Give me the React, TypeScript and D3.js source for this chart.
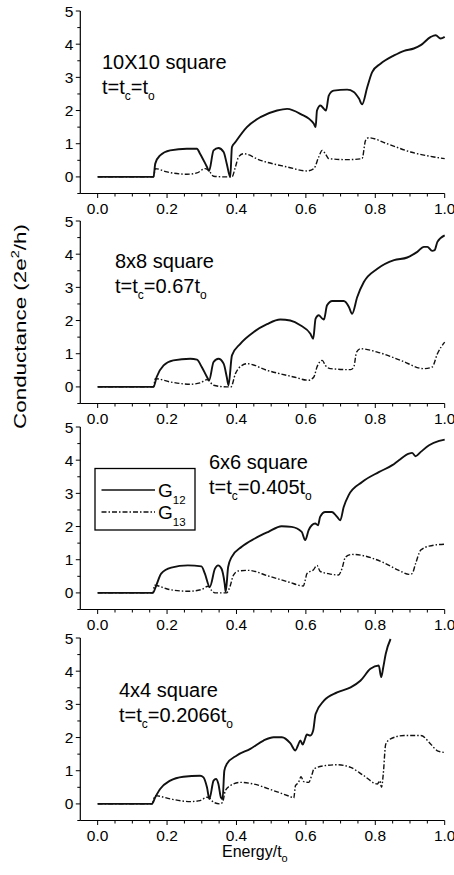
import React from 'react';
import * as d3 from 'd3';

// ---------- data ----------
const xTickValues = [0, 0.2, 0.4, 0.6, 0.8, 1.0];
const yTickValues = [0, 1, 2, 3, 4, 5];
const panelTitles = ['10X10 square', '8x8 square', '6x6 square', '4x4 square'];
const panelCouplings = ['', '0.67', '0.405', '0.2066'];

const g12_p1: [number, number][] = [
  [0, 0], [0.161, 0], [0.166, 0.4], [0.18, 0.65], [0.209, 0.8], [0.257, 0.85], [0.286, 0.85], [0.295, 0.7],
  [0.315, 0.3], [0.321, 0.18], [0.334, 0.8], [0.348, 0.87], [0.363, 0.75], [0.372, 0.4], [0.382, 0.0],
  [0.387, 0.9], [0.397, 1.05], [0.43, 1.5], [0.469, 1.8], [0.517, 2.0], [0.546, 2.05], [0.584, 1.9],
  [0.623, 1.6], [0.628, 1.5], [0.632, 2.0], [0.642, 2.15], [0.652, 2.05], [0.658, 2.0], [0.666, 2.45],
  [0.68, 2.6], [0.719, 2.63], [0.738, 2.56], [0.753, 2.36], [0.762, 2.19], [0.777, 2.71], [0.791, 3.16],
  [0.815, 3.41], [0.854, 3.66], [0.883, 3.8], [0.911, 3.87], [0.931, 3.97], [0.96, 4.22], [0.974, 4.27],
  [0.988, 4.17], [1.0, 4.22],
];
const g13_p1: [number, number][] = [
  [0, 0], [0.161, 0], [0.166, 0.25], [0.2, 0.15], [0.257, 0.08], [0.286, 0.12], [0.31, 0.25], [0.32, 0.2],
  [0.334, 0.02], [0.372, 0], [0.387, 0], [0.397, 0.3], [0.406, 0.6], [0.42, 0.7], [0.469, 0.5], [0.546, 0.3],
  [0.603, 0.18], [0.623, 0.25], [0.637, 0.6], [0.647, 0.8], [0.656, 0.7], [0.666, 0.55], [0.719, 0.52],
  [0.762, 0.55], [0.772, 1.1], [0.781, 1.18], [0.834, 1.0], [0.902, 0.75], [0.969, 0.6], [1.0, 0.55],
];

const g12_p2: [number, number][] = [
  [0, 0], [0.161, 0], [0.17, 0.3], [0.19, 0.65], [0.218, 0.8], [0.267, 0.85], [0.286, 0.82], [0.3, 0.6],
  [0.315, 0.3], [0.321, 0.2], [0.334, 0.75], [0.348, 0.85], [0.363, 0.7], [0.372, 0.3], [0.377, 0.05],
  [0.387, 0.95], [0.411, 1.3], [0.449, 1.65], [0.488, 1.89], [0.526, 2.03], [0.555, 2.0], [0.584, 1.86],
  [0.613, 1.6], [0.621, 1.45], [0.628, 2.06], [0.637, 2.16], [0.647, 2.06], [0.652, 2.03], [0.661, 2.46],
  [0.676, 2.59], [0.709, 2.59], [0.724, 2.41], [0.733, 2.2], [0.748, 2.71], [0.767, 3.16], [0.806, 3.56],
  [0.854, 3.82], [0.892, 3.9], [0.921, 4.07], [0.94, 4.22], [0.95, 4.22], [0.964, 4.1], [0.971, 4.12],
  [0.979, 4.37], [1.0, 4.57],
];
const g13_p2: [number, number][] = [
  [0, 0], [0.161, 0], [0.166, 0.25], [0.209, 0.15], [0.267, 0.08], [0.295, 0.12], [0.315, 0.22],
  [0.334, 0.05], [0.372, 0], [0.384, 0], [0.397, 0.4], [0.416, 0.65], [0.43, 0.7], [0.488, 0.5],
  [0.565, 0.3], [0.608, 0.2], [0.623, 0.3], [0.632, 0.6], [0.647, 0.8], [0.656, 0.65], [0.671, 0.55],
  [0.729, 0.52], [0.738, 0.6], [0.746, 1.05], [0.757, 1.15], [0.806, 1.05], [0.873, 0.8], [0.94, 0.55],
  [0.964, 0.6], [0.979, 1.0], [1.0, 1.35],
];

const g12_p3: [number, number][] = [
  [0, 0], [0.159, 0], [0.169, 0.23], [0.183, 0.58], [0.212, 0.76], [0.26, 0.83], [0.299, 0.8], [0.309, 0.58],
  [0.323, 0.18], [0.338, 0.73], [0.347, 0.83], [0.357, 0.73], [0.366, 0.28], [0.369, 0.03], [0.376, 0.78],
  [0.386, 1.08], [0.415, 1.39], [0.453, 1.64], [0.492, 1.84], [0.53, 2.01], [0.559, 1.99], [0.588, 1.84],
  [0.598, 1.59], [0.608, 1.89], [0.617, 2.04], [0.627, 2.09], [0.635, 2.04], [0.641, 2.29], [0.656, 2.44],
  [0.675, 2.44], [0.69, 2.29], [0.699, 2.19], [0.709, 2.59], [0.723, 2.94], [0.762, 3.34], [0.81, 3.64],
  [0.849, 3.85], [0.868, 4.0], [0.897, 4.2], [0.906, 4.22], [0.916, 4.12], [0.931, 4.25], [0.955, 4.45],
  [0.984, 4.58], [1.0, 4.62],
];
const g13_p3: [number, number][] = [
  [0, 0], [0.159, 0], [0.164, 0.23], [0.203, 0.11], [0.26, 0.05], [0.299, 0.1], [0.318, 0.2], [0.328, 0.08],
  [0.338, 0], [0.371, 0], [0.381, 0.18], [0.391, 0.53], [0.405, 0.66], [0.434, 0.68], [0.492, 0.51],
  [0.55, 0.33], [0.593, 0.21], [0.598, 0.38], [0.603, 0.58], [0.622, 0.7], [0.632, 0.83], [0.641, 0.65],
  [0.665, 0.58], [0.694, 0.54], [0.704, 0.73], [0.714, 1.08], [0.733, 1.16], [0.762, 1.13], [0.82, 0.93],
  [0.868, 0.68], [0.897, 0.56], [0.906, 0.58], [0.916, 0.88], [0.931, 1.29], [0.955, 1.41], [1.0, 1.47],
];

const g12_p4: [number, number][] = [
  [0, 0], [0.156, 0], [0.166, 0.2], [0.18, 0.45], [0.209, 0.7], [0.247, 0.82], [0.295, 0.85], [0.305, 0.8],
  [0.315, 0.5], [0.322, 0.15], [0.334, 0.7], [0.341, 0.75], [0.348, 0.6], [0.355, 0.2], [0.36, 0.15],
  [0.365, 1.0], [0.372, 1.2], [0.401, 1.46], [0.44, 1.66], [0.478, 1.91], [0.507, 2.01], [0.531, 2.01],
  [0.555, 1.83], [0.57, 1.61], [0.577, 1.76], [0.584, 1.91], [0.591, 1.79], [0.596, 1.91], [0.603, 2.09],
  [0.613, 2.06], [0.621, 2.21], [0.628, 2.71], [0.652, 3.11], [0.69, 3.36], [0.729, 3.51], [0.757, 3.71],
  [0.786, 4.07], [0.81, 4.17], [0.817, 3.82], [0.823, 4.12], [0.83, 4.52], [0.844, 4.97],
];
const g13_p4: [number, number][] = [
  [0, 0], [0.156, 0], [0.166, 0.25], [0.209, 0.15], [0.267, 0.07], [0.295, 0.1], [0.315, 0.2], [0.322, 0.18],
  [0.334, 0.05], [0.353, 0], [0.36, 0.05], [0.368, 0.4], [0.382, 0.55], [0.411, 0.65], [0.449, 0.6],
  [0.507, 0.4], [0.555, 0.22], [0.565, 0.18], [0.57, 0.55], [0.579, 0.65], [0.586, 0.82], [0.594, 0.67],
  [0.608, 0.65], [0.618, 0.9], [0.623, 1.05], [0.652, 1.15], [0.69, 1.18], [0.729, 1.1], [0.767, 0.85],
  [0.806, 0.6], [0.813, 0.7], [0.818, 0.5], [0.823, 0.9], [0.83, 1.8], [0.844, 1.96], [0.883, 2.06],
  [0.931, 2.06], [0.96, 1.8], [0.979, 1.6], [1.0, 1.55],
];

const g12Series = [g12_p1, g12_p2, g12_p3, g12_p4];
const g13Series = [g13_p1, g13_p2, g13_p3, g13_p4];

// ---------- layout ----------
const W = 454;
const H = 875;
const panelTops = [11, 221, 427, 638];
const panelH = 182.5;
const titlePos = [
  { x: 102, y: 69 },
  { x: 115, y: 268 },
  { x: 209, y: 469 },
  { x: 119, y: 697 },
];
const FONT = "'Liberation Sans', Arial, Helvetica, sans-serif";
const DASH = '5,2,1.5,2';

const x = d3.scaleLinear().domain([-0.05, 1.0]).range([80.3, 444.7]);
const xMinor = d3.range(0, 1.0001, 0.05);
const yMinor = d3.range(-0.5, 5.0001, 0.5);

function Panel({ idx }: { idx: number }) {
  const top = panelTops[idx];
  const y = d3.scaleLinear().domain([-0.5, 5]).range([top + panelH, top]);
  const line = d3
    .line<[number, number]>()
    .x((d) => x(d[0]))
    .y((d) => y(d[1]))
    .curve(d3.curveMonotoneX);
  const x0 = x.range()[0];
  const x1 = x.range()[1];
  const yb = y(-0.5);
  const tp = titlePos[idx];
  const coup = panelCouplings[idx];
  return (
    <g>
      {/* axes */}
      <line x1={x0} x2={x1} y1={yb} y2={yb} stroke="#000" strokeWidth={1.2} />
      <line x1={x0} x2={x0} y1={yb} y2={y(5)} stroke="#000" strokeWidth={1.2} />
      {xMinor.map((v, i) => {
        const major = xTickValues.some((t) => Math.abs(t - v) < 1e-6);
        return (
          <line key={'xm' + i} x1={x(v)} x2={x(v)} y1={yb} y2={yb + (major ? 4.5 : 3)} stroke="#000" strokeWidth={1} />
        );
      })}
      {xTickValues.map((v) => (
        <text key={'xt' + v} x={x(v)} y={yb + 20} textAnchor="middle" fontSize={15.5} fontFamily={FONT} fill="#000">
          {v.toFixed(1)}
        </text>
      ))}
      {yMinor.map((v, i) => {
        const major = yTickValues.some((t) => Math.abs(t - v) < 1e-6);
        return (
          <line key={'ym' + i} x1={x0} x2={x0 - (major ? 4.5 : 3)} y1={y(v)} y2={y(v)} stroke="#000" strokeWidth={1} />
        );
      })}
      {yTickValues.map((v) => (
        <text key={'yt' + v} x={x0 - 7} y={y(v) + 5.5} textAnchor="end" fontSize={15.5} fontFamily={FONT} fill="#000">
          {v}
        </text>
      ))}
      {/* curves */}
      <path d={line(g13Series[idx]) || ''} fill="none" stroke="#111" strokeWidth={1.4} strokeDasharray={DASH} />
      <path d={line(g12Series[idx]) || ''} fill="none" stroke="#111" strokeWidth={1.9} />
      {/* annotation */}
      <text x={tp.x} y={tp.y} fontSize={20} fontFamily={FONT} fill="#000">
        {panelTitles[idx]}
      </text>
      <text x={tp.x} y={tp.y + 24.5} fontSize={20} fontFamily={FONT} fill="#000">
        <tspan>t=t</tspan>
        <tspan fontSize={12} dy={6}>c</tspan>
        <tspan dy={-6}>{'=' + coup + 't'}</tspan>
        <tspan fontSize={12} dy={6}>o</tspan>
      </text>
    </g>
  );
}

export default function App() {
  return (
    <svg
      width={W}
      height={H}
      viewBox={`0 0 ${W} ${H}`}
      style={{ position: 'absolute', left: 0, top: 0, background: '#fff' }}
    >
      <rect x={0} y={0} width={W} height={H} fill="#fff" />
      {[0, 1, 2, 3].map((i) => (
        <Panel key={i} idx={i} />
      ))}
      {/* legend in panel 3 */}
      <rect x={95} y={468.5} width={100} height={61.5} fill="#fff" stroke="#000" strokeWidth={1.3} />
      <line x1={101.5} x2={155} y1={490} y2={490} stroke="#111" strokeWidth={1.6} />
      <line x1={101.5} x2={155} y1={512} y2={512} stroke="#111" strokeWidth={1.4} strokeDasharray={DASH} />
      <text x={158} y={497} fontSize={19} fontFamily={FONT} fill="#000">
        G<tspan fontSize={11.5} dy={6.5}>12</tspan>
      </text>
      <text x={158} y={519} fontSize={19} fontFamily={FONT} fill="#000">
        G<tspan fontSize={11.5} dy={6.5}>13</tspan>
      </text>
      {/* y-axis title */}
      <text
        transform="translate(25.5,326.5) rotate(-90)"
        textAnchor="middle"
        fontSize={17}
        fontFamily={FONT}
        fill="#000"
        textLength={205}
        lengthAdjust="spacingAndGlyphs"
      >
        Conductance (2e<tspan fontSize={11} dy={-7}>2</tspan>
        <tspan dy={7}>/h)</tspan>
      </text>
      {/* x-axis title */}
      <text x={222} y={857} fontSize={16} fontFamily={FONT} fill="#000">
        Energy/t<tspan fontSize={11} dy={5}>o</tspan>
      </text>
    </svg>
  );
}
